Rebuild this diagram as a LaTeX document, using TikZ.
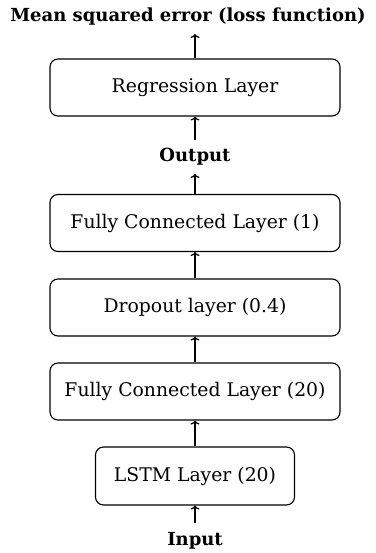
\documentclass[tikz,border=0pt]{standalone}
\usepackage{fontspec}
\setmainfont{DejaVu Serif}
\usetikzlibrary{arrows.meta}
\begin{document}
\begin{tikzpicture}[x=1pt,y=-1pt,
  layerbox/.style={draw, rounded corners=8pt, line width=1.1pt, minimum height=57pt, font=\fontsize{18.8}{20}\selectfont, inner sep=0pt},
  lbl/.style={font=\fontsize{18}{20}\selectfont\bfseries, inner sep=0pt},
  arr/.style={-{To[length=4pt,width=9pt]}, line width=1.3pt}]
\useasboundingbox (0,0) rectangle (375,553);
\node[lbl] (loss) at (188,17) {Mean squared error (loss function)};
\node[layerbox, minimum width=290pt] (reg) at (195,87.5) {Regression Layer};
\node[lbl] (out) at (195,157) {Output};
\node[layerbox, minimum width=290pt] (fc1) at (195,223) {Fully Connected Layer (1)};
\node[layerbox, minimum width=290pt] (drop) at (195,307.5) {Dropout layer (0.4)};
\node[layerbox, minimum width=290pt] (fc20) at (195,391.5) {Fully Connected Layer (20)};
\node[layerbox, minimum width=199pt, minimum height=58pt] (lstm) at (195,476) {LSTM Layer (20)};
\node[lbl] (in) at (195,541) {Input};
\coordinate (lossb) at (195,34);
\coordinate (outt) at (195,140);
\coordinate (outb) at (195,174);
\coordinate (int) at (195,523);
\draw[arr] (reg.north) -- (lossb);
\draw[arr] (outt) -- (reg.south);
\draw[arr] (fc1.north) -- (outb);
\draw[arr] (drop.north) -- (fc1.south);
\draw[arr] (fc20.north) -- (drop.south);
\draw[arr] (lstm.north) -- (fc20.south);
\draw[arr] (int) -- (lstm.south);
\end{tikzpicture}
\end{document}
